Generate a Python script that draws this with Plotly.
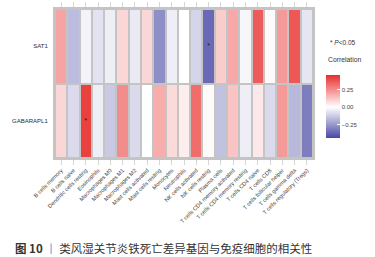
import plotly.graph_objects as go

cells = ["B cells memory", "B cells naive", "Dendritic cells resting", "Eosinophils",
         "Macrophages M0", "Macrophages M1", "Macrophages M2", "Mast cells activated",
         "Mast cells resting", "Monocytes", "Neutrophils", "NK cells activated",
         "NK cells resting", "Plasma cells", "T cells CD4 memory activated",
         "T cells CD4 memory resting", "T cells CD4 naive", "T cells CD8",
         "T cells follicular helper", "T cells gamma delta", "T cells regulatory (Tregs)"]
genes = ["GABARAPL1", "SAT1"]

sat1 = [0.20, -0.16, -0.03, -0.07, -0.04, 0.09, -0.05, 0.09, -0.27, -0.04, 0.00,
        -0.10, -0.36, 0.11, 0.19, -0.02, 0.36, 0.01, 0.22, 0.37, -0.06]
gabarapl1 = [0.09, -0.09, 0.42, -0.04, -0.13, 0.25, -0.09, 0.00, 0.18, 0.08, 0.04,
             0.32, 0.01, -0.15, 0.13, -0.04, 0.05, -0.09, 0.22, -0.17, -0.31]
sig_sat1 = ["NK cells resting"]
sig_gabarapl1 = ["Dendritic cells resting"]

zmin, zmax = -0.44, 0.46
mid = (0 - zmin) / (zmax - zmin)

fig = go.Figure()
fig.add_trace(go.Heatmap(
    z=[gabarapl1, sat1], x=cells, y=genes,
    zmin=zmin, zmax=zmax,
    colorscale=[[0, "#4848a4"], [mid, "#ffffff"], [1, "#e82e2c"]],
    xgap=2, ygap=2,
    colorbar=dict(
        x=1.05, xanchor="left", y=0.345, yanchor="middle",
        thickness=14, lenmode="pixels", len=63, xpad=0, ypad=0,
        outlinewidth=0, ticks="inside", ticklen=3, tickcolor="white",
        tickvals=[-0.25, 0, 0.25], ticktext=["\u22120.25", "0.00", "0.25"],
        tickfont=dict(size=6, color="#444", family="Liberation Sans"),
    ),
    hoverinfo="skip",
))

sx = sig_gabarapl1 + sig_sat1
sy = ["GABARAPL1"] * len(sig_gabarapl1) + ["SAT1"] * len(sig_sat1)
fig.add_trace(go.Scatter(x=sx, y=sy, mode="text", text=["*"] * len(sx),
                         textfont=dict(size=7, color="#222"), showlegend=False,
                         hoverinfo="skip", cliponaxis=False))

fig.update_layout(
    width=375, height=257,
    margin=dict(l=55, r=62, t=9, b=99, autoexpand=False),
    paper_bgcolor="white", plot_bgcolor="#c4c4c4",
    font=dict(family="Liberation Sans", color="#444"),
    showlegend=False,
)
fig.update_xaxes(
    range=[-0.5, len(cells) - 0.5], automargin=False,
    tickangle=-45, tickfont=dict(size=5.6, color="#3a3a3a"),
    ticks="outside", ticklen=5, tickcolor="#d6d6d6", tickwidth=1,
    showline=True, linecolor="#c4c4c4", linewidth=2, mirror="ticks",
    showgrid=False, zeroline=False, fixedrange=True,
)
fig.update_yaxes(
    range=[-0.5, len(genes) - 0.5], automargin=False,
    tickfont=dict(size=6, color="#2a2a2a"), ticks="", ticklabelstandoff=4,
    showline=True, linecolor="#c4c4c4", linewidth=2, mirror=True,
    showgrid=False, zeroline=False,
)

fig.add_annotation(xref="paper", yref="paper", x=1.058, y=0.772, xanchor="left",
                   yanchor="middle", showarrow=False,
                   text="* <i>P</i><0.05", font=dict(size=6.5, color="#333"))
fig.add_annotation(xref="paper", yref="paper", x=1.052, y=0.664, xanchor="left",
                   yanchor="middle", showarrow=False,
                   text="Correlation", font=dict(size=6.8, color="#333"))
fig.add_annotation(xref="paper", yref="paper", x=-0.164, y=-0.604, xanchor="left",
                   yanchor="middle", showarrow=False,
                   text="<b>图 10</b> <span style='color:#5aa0d8'>丨</span> 类风湿关节炎铁死亡差异基因与免疫细胞的相关性",
                   font=dict(size=11.5, color="#333", family="Noto Sans CJK SC"))

fig.write_html("out.html", config={"displayModeBar": False},
               post_script="document.body.style.margin='0';document.body.style.overflow='hidden';")
